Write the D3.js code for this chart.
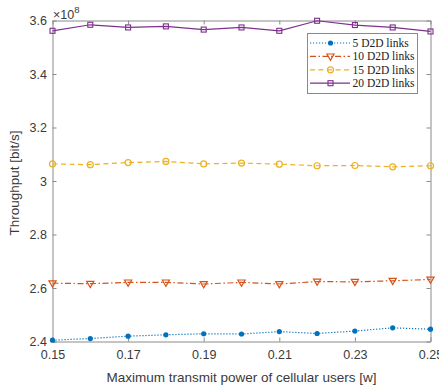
<!DOCTYPE html>
<html>
<head>
<meta charset="utf-8">
<script src="https://cdn.jsdelivr.net/npm/d3@7"></script>
<style>
  body { margin: 0; background: #fff; }
  svg { display: block; }
  .tick text { font-family: "Liberation Sans", Arial, sans-serif; font-size: 12.5px; fill: #3a3a3a; }
</style>
</head>
<body>
<svg id="chart" width="439" height="390"></svg>
<script>
// x values: max transmit power of cellular users [w]
const powers = [0.15, 0.16, 0.17, 0.18, 0.19, 0.20, 0.21, 0.22, 0.23, 0.24, 0.25];
// throughput in units of 1e8 bit/s
const links5  = [2.405, 2.411, 2.420, 2.425, 2.429, 2.428, 2.437, 2.430, 2.439, 2.451, 2.446];
const links10 = [2.618, 2.616, 2.621, 2.621, 2.615, 2.621, 2.615, 2.624, 2.623, 2.627, 2.632];
const links15 = [3.064, 3.061, 3.069, 3.073, 3.064, 3.067, 3.063, 3.057, 3.058, 3.053, 3.057];
const links20 = [3.5615, 3.584, 3.574, 3.578, 3.566, 3.574, 3.5615, 3.599, 3.583, 3.574, 3.559];
const seriesNames = ['5 D2D links', '10 D2D links', '15 D2D links', '20 D2D links'];
const xTicks = [0.15, 0.17, 0.19, 0.21, 0.23, 0.25];
const yTicks = [2.4, 2.6, 2.8, 3, 3.2, 3.4, 3.6];

const svg = d3.select('#chart');
const area = {left: 52.5, right: 430.5, top: 20.5, bottom: 341.5};
const axisColor = '#8a8a8a';

const x = d3.scaleLinear().domain([0.15, 0.25]).range([area.left, area.right]);
const y = d3.scaleLinear().domain([2.4, 3.6]).range([area.bottom, area.top]);

const styles = [
  {color: '#0072BD', dash: '1.2,1.8', marker: 'dot'},
  {color: '#D95319', dash: '6,2.5,1.5,2.5', marker: 'tri'},
  {color: '#EDB120', dash: '5,3.5', marker: 'circle'},
  {color: '#7E2F8E', dash: null, marker: 'square'}
];
const seriesData = [links5, links10, links15, links20];

// axes (ticks point inward, MATLAB box style)
function styleAxis(g) {
  g.select('.domain').attr('stroke', axisColor);
  g.selectAll('.tick line').attr('stroke', axisColor);
}
svg.append('g').attr('transform', `translate(0,${area.bottom})`)
  .call(d3.axisBottom(x).tickValues(xTicks).tickSizeInner(-4).tickSizeOuter(0).tickPadding(9).tickFormat(d3.format('.2f')))
  .call(styleAxis);
svg.append('g').attr('transform', `translate(0,${area.top})`)
  .call(d3.axisTop(x).tickValues(xTicks).tickSizeInner(-4).tickSizeOuter(0).tickFormat(''))
  .call(styleAxis);
svg.append('g').attr('transform', `translate(${area.left},0)`)
  .call(d3.axisLeft(y).tickValues(yTicks).tickSizeInner(-4).tickSizeOuter(0).tickPadding(5.5).tickFormat(d => String(d)))
  .call(styleAxis);
svg.append('g').attr('transform', `translate(${area.right},0)`)
  .call(d3.axisRight(y).tickValues(yTicks).tickSizeInner(-4).tickSizeOuter(0).tickFormat(''))
  .call(styleAxis);

// exponent label
const expo = svg.append('text')
  .attr('x', 53).attr('y', 18.5)
  .attr('font-family', '"Liberation Sans", Arial, sans-serif')
  .attr('font-size', 12.5).attr('fill', '#3a3a3a');
expo.append('tspan').text('\u00d710');
expo.append('tspan').attr('dy', -5.5).attr('font-size', 9.5).text('8');

// axis labels
svg.append('text')
  .attr('x', (area.left + area.right) / 2).attr('y', 382)
  .attr('text-anchor', 'middle')
  .attr('font-family', '"Liberation Sans", Arial, sans-serif')
  .attr('font-size', 13.5).attr('fill', '#3a3a3a')
  .text('Maximum transmit power of cellular users [w]');
svg.append('text')
  .attr('transform', 'translate(19,183) rotate(-90)')
  .attr('text-anchor', 'middle')
  .attr('font-family', '"Liberation Sans", Arial, sans-serif')
  .attr('font-size', 13.5).attr('fill', '#3a3a3a')
  .text('Throughput [bit/s]');

function drawMarker(g, type, color, cx, cy) {
  if (type === 'dot') {
    g.append('circle').attr('cx', cx).attr('cy', cy).attr('r', 2.6).attr('fill', color);
  } else if (type === 'circle') {
    g.append('circle').attr('cx', cx).attr('cy', cy).attr('r', 3).attr('fill', 'none').attr('stroke', color).attr('stroke-width', 1.2);
  } else if (type === 'square') {
    g.append('rect').attr('x', cx - 2.5).attr('y', cy - 2.5).attr('width', 5).attr('height', 5).attr('fill', 'none').attr('stroke', color).attr('stroke-width', 1.1);
  } else if (type === 'tri') {
    g.append('path').attr('d', `M${cx - 3.6},${cy - 2.4}L${cx + 3.6},${cy - 2.4}L${cx},${cy + 3.8}Z`)
      .attr('fill', 'none').attr('stroke', color).attr('stroke-width', 1.2);
  }
}

const line = d3.line().x((d, i) => x(powers[i])).y(d => y(d));
seriesData.forEach((vals, s) => {
  const st = styles[s];
  const g = svg.append('g');
  g.append('path').datum(vals).attr('d', line)
    .attr('fill', 'none').attr('stroke', st.color).attr('stroke-width', 1.2)
    .attr('stroke-dasharray', st.dash);
  vals.forEach((v, i) => drawMarker(g, st.marker, st.color, x(powers[i]), y(v)));
});

// legend
const legend = svg.append('g');
legend.append('rect').attr('x', 307.5).attr('y', 33.5).attr('width', 110).attr('height', 60)
  .attr('fill', '#fff').attr('stroke', axisColor);
seriesNames.forEach((name, s) => {
  const st = styles[s];
  const ly = 43 + s * 13.4;
  legend.append('line').attr('x1', 310).attr('x2', 350).attr('y1', ly).attr('y2', ly)
    .attr('stroke', st.color).attr('stroke-width', 1.2).attr('stroke-dasharray', st.dash);
  drawMarker(legend, st.marker, st.color, 330.5, ly);
  legend.append('text').attr('x', 352.5).attr('y', ly + 4)
    .attr('font-family', '"Liberation Serif", "Times New Roman", serif')
    .attr('font-size', 11.5).attr('fill', '#222')
    .text(name);
});
</script>
</body>
</html>
